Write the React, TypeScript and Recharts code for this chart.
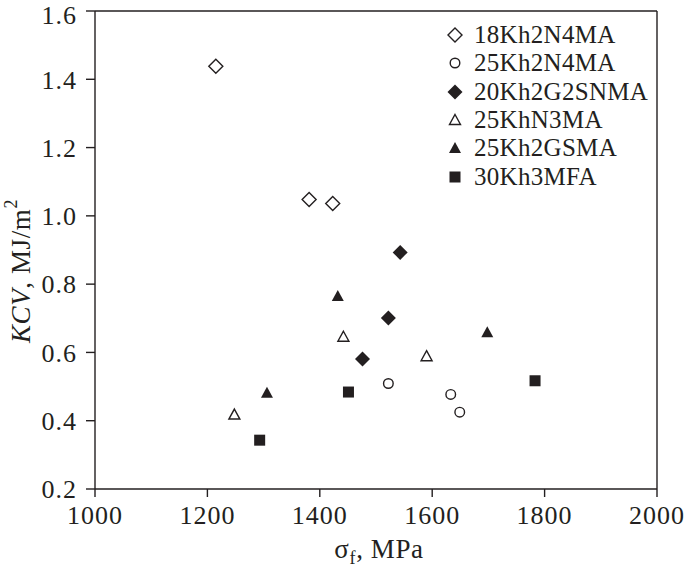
import React from "react";
import {
    ScatterChart,
    Scatter,
    XAxis,
    YAxis,
    ReferenceLine,
    Label,
} from "recharts";

// strength (MPa) vs impact toughness KCV (MJ/m2)
const steel18Kh2N4MA = [
    { x: 1215, y: 1.438 },
    { x: 1381, y: 1.048 },
    { x: 1423, y: 1.036 },
];
const steel25Kh2N4MA = [
    { x: 1522, y: 0.509 },
    { x: 1633, y: 0.477 },
    { x: 1649, y: 0.425 },
];
const steel20Kh2G2SNMA = [
    { x: 1543, y: 0.893 },
    { x: 1522, y: 0.701 },
    { x: 1476, y: 0.581 },
];
const steel25KhN3MA = [
    { x: 1248, y: 0.418 },
    { x: 1442, y: 0.646 },
    { x: 1590, y: 0.589 },
];
const steel25Kh2GSMA = [
    { x: 1306, y: 0.482 },
    { x: 1432, y: 0.765 },
    { x: 1698, y: 0.659 },
];
const steel30Kh3MFA = [
    { x: 1293, y: 0.343 },
    { x: 1451, y: 0.484 },
    { x: 1783, y: 0.517 },
];

const xTicks = [1000, 1200, 1400, 1600, 1800, 2000];
const yTicks = [0.2, 0.4, 0.6, 0.8, 1.0, 1.2, 1.4, 1.6];

const INK = "#231f20";
const FONT = "'Liberation Serif', 'Times New Roman', serif";

type Kind = "diamondOpen" | "circleOpen" | "diamond" | "triangleOpen" | "triangle" | "square";

const drawMarker = (kind: Kind, cx: number, cy: number) => {
    switch (kind) {
        case "diamondOpen":
            return <polygon points={`${cx},${cy - 7} ${cx + 7},${cy} ${cx},${cy + 7} ${cx - 7},${cy}`} fill="#fff" stroke={INK} strokeWidth={1.4} />;
        case "diamond":
            return <polygon points={`${cx},${cy - 7.5} ${cx + 7.5},${cy} ${cx},${cy + 7.5} ${cx - 7.5},${cy}`} fill={INK} />;
        case "circleOpen":
            return <circle cx={cx} cy={cy} r={4.8} fill="#fff" stroke={INK} strokeWidth={1.4} />;
        case "triangleOpen":
            return <polygon points={`${cx},${cy - 5.5} ${cx + 5.5},${cy + 4.5} ${cx - 5.5},${cy + 4.5}`} fill="#fff" stroke={INK} strokeWidth={1.4} />;
        case "triangle":
            return <polygon points={`${cx},${cy - 6} ${cx + 6},${cy + 5} ${cx - 6},${cy + 5}`} fill={INK} />;
        case "square":
            return <rect x={cx - 5.5} y={cy - 5.5} width={11} height={11} fill={INK} />;
    }
};

const series: { name: string; data: { x: number; y: number }[]; kind: Kind }[] = [
    { name: "18Kh2N4MA", data: steel18Kh2N4MA, kind: "diamondOpen" },
    { name: "25Kh2N4MA", data: steel25Kh2N4MA, kind: "circleOpen" },
    { name: "20Kh2G2SNMA", data: steel20Kh2G2SNMA, kind: "diamond" },
    { name: "25KhN3MA", data: steel25KhN3MA, kind: "triangleOpen" },
    { name: "25Kh2GSMA", data: steel25Kh2GSMA, kind: "triangle" },
    { name: "30Kh3MFA", data: steel30Kh3MFA, kind: "square" },
];

const tickStyle = { fontFamily: FONT, fontSize: 26, fill: INK, letterSpacing: 1 };

const YTitle = () => (
    <text
        x={21}
        y={271}
        transform="rotate(-90, 21, 271)"
        textAnchor="middle"
        dominantBaseline="central"
        fontFamily={FONT}
        fontSize={27}
        letterSpacing={0.6}
        fill={INK}
    >
        <tspan fontStyle="italic">KCV</tspan>
        <tspan>, MJ/m</tspan>
        <tspan fontSize={18} dy={-10}>2</tspan>
    </text>
);

const XTitle = () => (
    <text x={379} y={558} textAnchor="middle" fontFamily={FONT} fontSize={27} letterSpacing={0.6} fill={INK}>
        <tspan>σ</tspan>
        <tspan fontSize={18} dy={6}>f</tspan>
        <tspan dy={-6}>, MPa</tspan>
    </text>
);

const App = () => {
    return (
        <div style={{ position: "absolute", left: 0, top: 0, width: 685, height: 574, background: "#fff" }}>
            <ScatterChart width={685} height={574} margin={{ top: 11, right: 28, left: 0, bottom: 0 }}>
                <XAxis
                    type="number"
                    dataKey="x"
                    domain={[1000, 2000]}
                    ticks={xTicks}
                    height={85}
                    stroke={INK}
                    strokeWidth={1.4}
                    tickSize={8}
                    tickMargin={9}
                    tick={tickStyle}
                >
                    <Label content={<XTitle />} />
                </XAxis>
                <YAxis
                    type="number"
                    dataKey="y"
                    domain={[0.2, 1.6]}
                    ticks={yTicks}
                    width={95}
                    stroke={INK}
                    strokeWidth={1.4}
                    tickSize={9}
                    tickMargin={9}
                    tickFormatter={(v: number) => v.toFixed(1)}
                    tick={tickStyle}
                >
                    <Label content={<YTitle />} />
                </YAxis>
                <ReferenceLine y={1.6} stroke={INK} strokeWidth={1.4} />
                <ReferenceLine x={2000} stroke={INK} strokeWidth={1.4} />
                {series.map((s) => (
                    <Scatter
                        key={s.name}
                        name={s.name}
                        data={s.data}
                        isAnimationActive={false}
                        shape={(p: any) => drawMarker(s.kind, p.cx, p.cy)}
                    />
                ))}
            </ScatterChart>

            {/* legend sits inside the plot, upper right */}
            <div style={{ position: "absolute", left: 445, top: 21, fontFamily: FONT, fontSize: 25, letterSpacing: 0.3, color: INK }}>
                {series.map((s) => (
                    <div key={s.name} style={{ display: "flex", alignItems: "center", height: 28.3 }}>
                        <svg width={22} height={20} style={{ marginRight: 7 }}>
                            {drawMarker(s.kind, 10, 10)}
                        </svg>
                        <span style={{ lineHeight: "28px" }}>{s.name}</span>
                    </div>
                ))}
            </div>
        </div>
    );
};

export default App;
